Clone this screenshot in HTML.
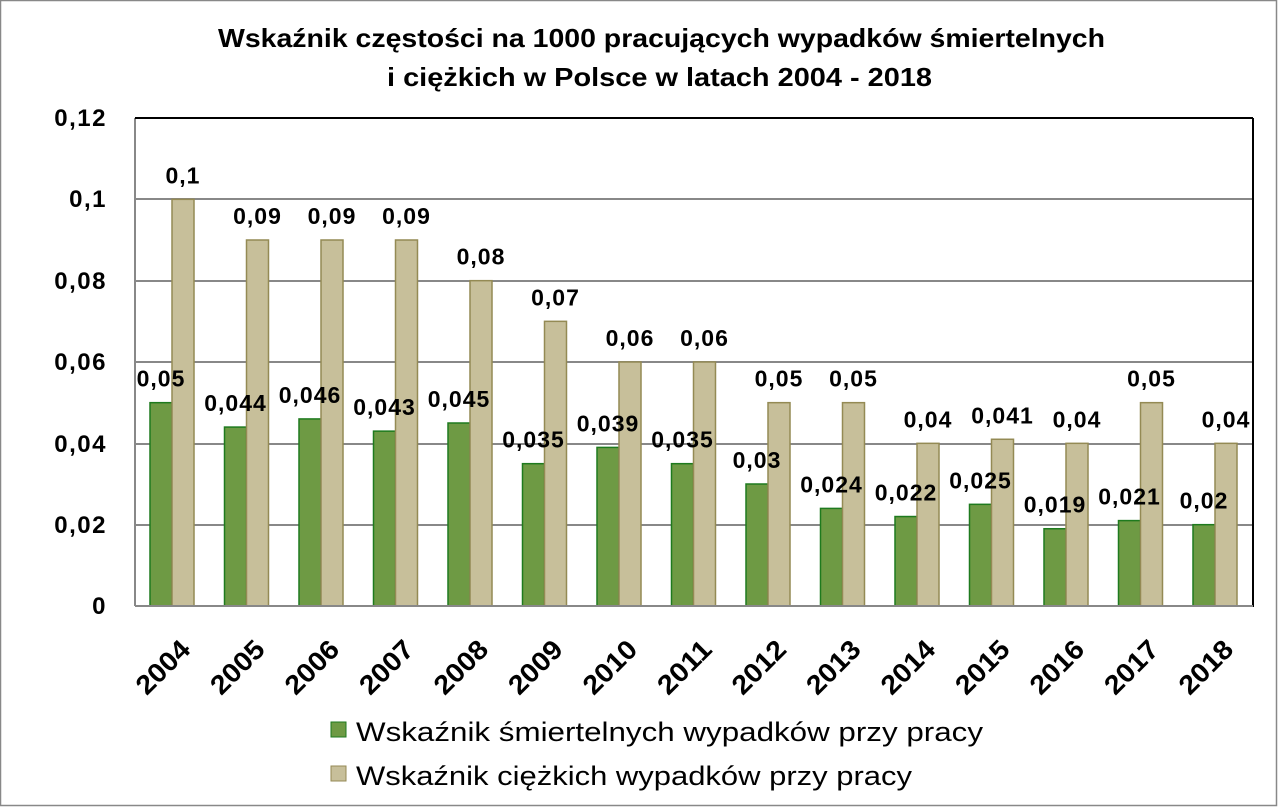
<!DOCTYPE html>
<html><head><meta charset="utf-8"><style>
html,body{margin:0;padding:0;background:#fff}
svg{display:block}
text{font-family:"Liberation Sans",sans-serif;font-weight:bold;fill:#000}
</style></head><body>
<svg width="1278" height="807" viewBox="0 0 1278 807">
<rect x="0.5" y="0.5" width="1276" height="805" fill="#fff" stroke="#888" stroke-width="1.5"/>
<text x="218" y="47" font-size="26" textLength="887" lengthAdjust="spacingAndGlyphs">Wskaźnik częstości na 1000 pracujących wypadków śmiertelnych</text>
<text x="387" y="86" font-size="26" textLength="545" lengthAdjust="spacingAndGlyphs">i ciężkich w Polsce w latach 2004 - 2018</text>
<g stroke="#888" stroke-width="2">
<line x1="135" y1="525" x2="1253" y2="525"/>
<line x1="135" y1="444" x2="1253" y2="444"/>
<line x1="135" y1="362" x2="1253" y2="362"/>
<line x1="135" y1="281" x2="1253" y2="281"/>
<line x1="135" y1="199" x2="1253" y2="199"/>
<line x1="135" y1="118" x2="135" y2="606"/>
</g>
<line x1="135" y1="118" x2="1253" y2="118" stroke="#000" stroke-width="2"/>
<line x1="1253" y1="118" x2="1253" y2="607" stroke="#000" stroke-width="2"/>
<g font-size="24" text-anchor="end" letter-spacing="1.5">
<text x="107" y="614">0</text>
<text x="107" y="533">0,02</text>
<text x="107" y="452">0,04</text>
<text x="107" y="370">0,06</text>
<text x="107" y="289">0,08</text>
<text x="107" y="207">0,1</text>
<text x="107" y="126">0,12</text>
</g>
<g id="bars"></g>
<line x1="135" y1="606" x2="1253" y2="606" stroke="#888" stroke-width="2"/>
<rect x="331" y="722" width="15" height="15" fill="#6e9a44" stroke="#1e7a1e"/>
<text x="356" y="741" font-size="27" textLength="627" lengthAdjust="spacingAndGlyphs" style="font-weight:normal">Wskaźnik śmiertelnych wypadków przy pracy</text>
<rect x="331" y="766" width="15" height="15" fill="#c7bf9a" stroke="#948a54"/>
<text x="356" y="785" font-size="27" textLength="556" lengthAdjust="spacingAndGlyphs" style="font-weight:normal">Wskaźnik ciężkich wypadków przy pracy</text>
</svg>
<script>
var g=[0.05,0.044,0.046,0.043,0.045,0.035,0.039,0.035,0.03,0.024,0.022,0.025,0.019,0.021,0.02];
var t=[0.1,0.09,0.09,0.09,0.08,0.07,0.06,0.06,0.05,0.05,0.04,0.041,0.04,0.05,0.04];
var gl=["0,05","0,044","0,046","0,043","0,045","0,035","0,039","0,035","0,03","0,024","0,022","0,025","0,019","0,021","0,02"];
var tl=["0,1","0,09","0,09","0,09","0,08","0,07","0,06","0,06","0,05","0,05","0,04","0,041","0,04","0,05","0,04"];
var s="";
function y(v){return 606-v/0.12*488;}
for(var i=0;i<15;i++){
 var x=150+74.5*i;
 s+='<rect x="'+x+'" y="'+y(g[i])+'" width="22" height="'+(606-y(g[i]))+'" fill="#6e9a44" stroke="#1e7a1e" stroke-width="1.5"/>';
 s+='<rect x="'+(x+22)+'" y="'+y(t[i])+'" width="22" height="'+(606-y(t[i]))+'" fill="#c7bf9a" stroke="#948a54" stroke-width="1.5"/>';
 s+='<text x="'+(x+11)+'" y="'+(y(g[i])-16)+'" font-size="23" letter-spacing="1" text-anchor="middle">'+gl[i]+'</text>';
 s+='<text x="'+(x+33)+'" y="'+(y(t[i])-16)+'" font-size="23" letter-spacing="1" text-anchor="middle">'+tl[i]+'</text>';
 var cx=x+42, cy=651;
 s+='<text x="'+cx+'" y="'+cy+'" font-size="27" text-anchor="end" textLength="64" lengthAdjust="spacingAndGlyphs" transform="rotate(-45 '+cx+' '+cy+')">'+(2004+i)+'</text>';
}
document.getElementById("bars").innerHTML=s;
</script>
</body></html>
